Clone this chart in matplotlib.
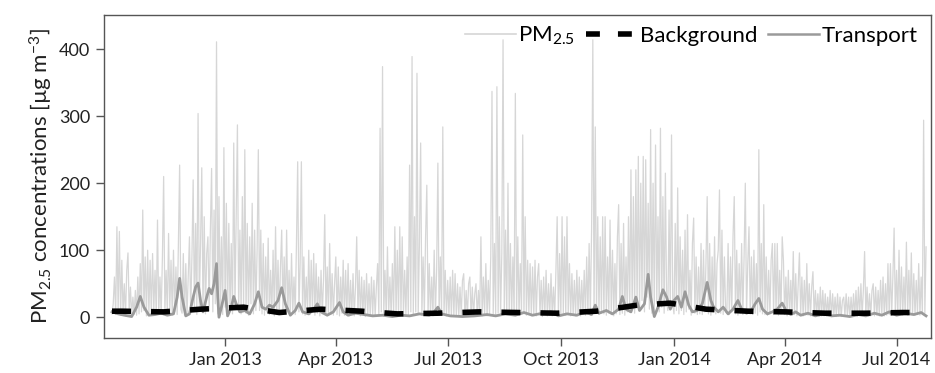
import matplotlib
matplotlib.use('Agg')
import pandas as pd
from matplotlib import pyplot as plt
from matplotlib.lines import Line2D

plt.rcParams['font.family'] = ['Lato', 'DejaVu Sans']
plt.rcParams['mathtext.fontset'] = 'custom'
plt.rcParams['mathtext.rm'] = 'Lato'
plt.rcParams['mathtext.default'] = 'regular'
plt.rcParams['lines.scale_dashes'] = False

# daily PM2.5 (ug/m3), starting 2012-10-01
pm25 = [
    5, 20, 60, 4, 135, 10, 128, 3, 85, 6, 50, 2, 70, 96, 5, 45, 3, 30, 4, 40,
    3, 60, 5, 80, 8, 160, 10, 90, 2, 100, 6, 85, 3, 95, 12, 70, 4, 145, 5, 60,
    4, 90, 210, 8, 70, 5, 125, 10, 85, 3, 100, 8, 75, 4, 110, 227, 12, 6, 95, 3,
    80, 3, 60, 120, 6, 90, 205, 10, 140, 4, 304, 15, 110, 223, 8, 150, 5, 95, 120, 10,
    130, 222, 8, 160, 20, 411, 5, 180, 12, 120, 4, 253, 15, 170, 6, 140, 10, 110, 5, 260,
    15, 150, 287, 8, 130, 5, 180, 12, 250, 6, 140, 3, 120, 20, 170, 5, 130, 10, 100, 250,
    10, 130, 5, 110, 3, 90, 8, 118, 4, 70, 6, 100, 2, 135, 10, 85, 4, 75, 130, 6,
    90, 5, 130, 8, 70, 3, 95, 6, 60, 4, 110, 232, 8, 80, 232, 5, 90, 3, 60, 6,
    100, 4, 85, 8, 95, 3, 80, 6, 60, 2, 70, 5, 55, 153, 6, 75, 3, 110, 4, 65,
    3, 50, 90, 4, 75, 2, 60, 6, 85, 3, 70, 5, 80, 2, 55, 4, 65, 2, 45, 120,
    5, 70, 2, 60, 4, 55, 1, 65, 5, 50, 2, 60, 3, 55, 2, 45, 80, 3, 282, 8,
    374, 5, 70, 2, 105, 4, 60, 2, 80, 4, 135, 6, 100, 3, 135, 6, 120, 2, 70, 4,
    90, 3, 227, 8, 389, 4, 150, 8, 364, 5, 110, 260, 3, 90, 5, 120, 197, 3, 80, 4,
    60, 2, 100, 4, 70, 230, 3, 90, 5, 284, 4, 70, 2, 55, 3, 60, 1, 70, 2, 65,
    2, 50, 1, 45, 3, 55, 65, 2, 40, 1, 50, 60, 2, 45, 1, 35, 50, 2, 40, 3,
    120, 2, 60, 3, 80, 2, 55, 4, 90, 337, 5, 110, 3, 344, 6, 150, 4, 95, 414, 8,
    130, 4, 200, 6, 110, 3, 90, 5, 334, 8, 120, 3, 80, 5, 272, 6, 150, 3, 85, 4,
    80, 2, 75, 3, 85, 2, 60, 80, 3, 55, 1, 60, 4, 70, 2, 50, 3, 65, 2, 45,
    3, 70, 150, 4, 95, 2, 150, 5, 120, 3, 150, 5, 80, 2, 65, 3, 55, 2, 70, 3,
    60, 2, 55, 4, 70, 3, 90, 5, 110, 3, 130, 414, 6, 284, 8, 150, 4, 120, 6, 150,
    5, 150, 3, 90, 6, 145, 4, 100, 2, 80, 5, 120, 168, 4, 110, 6, 140, 3, 90, 8,
    150, 8, 220, 15, 180, 6, 220, 20, 240, 10, 200, 25, 240, 8, 235, 30, 170, 12, 280, 6,
    200, 10, 257, 20, 150, 8, 282, 15, 180, 6, 215, 25, 10, 160, 12, 272, 20, 5, 140, 10,
    193, 5, 120, 10, 100, 4, 130, 8, 153, 12, 70, 3, 110, 148, 6, 90, 4, 75, 5, 110,
    4, 100, 8, 80, 180, 5, 110, 3, 90, 8, 120, 5, 80, 100, 190, 6, 130, 4, 90, 8,
    6, 110, 4, 90, 8, 120, 180, 5, 100, 3, 80, 6, 110, 4, 90, 200, 6, 80, 135, 5,
    90, 4, 100, 6, 80, 3, 250, 8, 110, 5, 168, 4, 90, 3, 70, 5, 85, 110, 4, 110,
    6, 110, 3, 70, 5, 120, 85, 4, 60, 2, 70, 4, 55, 3, 98, 4, 65, 2, 50, 96,
    3, 60, 2, 55, 4, 80, 3, 50, 2, 45, 68, 2, 40, 3, 35, 1, 45, 2, 40, 2,
    35, 2, 30, 3, 40, 1, 35, 2, 30, 1, 35, 2, 30, 1, 25, 30, 2, 35, 2, 30,
    1, 30, 2, 35, 2, 40, 1, 45, 3, 50, 2, 40, 98, 3, 45, 2, 35, 2, 40, 50,
    2, 45, 3, 40, 2, 55, 3, 60, 2, 50, 3, 80, 4, 80, 3, 60, 133, 4, 70, 3,
    100, 4, 75, 3, 60, 5, 112, 3, 70, 5, 96, 4, 65, 3, 55, 4, 80, 3, 60, 5, 294, 6, 105,
]

# transport contribution: day offset from 2012-10-01 and value
tr_day = [0, 5, 10, 16, 20, 23, 26, 30, 35, 40, 45, 50, 53, 55, 57, 60, 63, 66, 68, 70,
          72, 74, 77, 79, 81, 83, 85, 86, 87, 89, 92, 94, 97, 99, 101, 104, 108, 112, 116, 119,
          122, 125, 128, 131, 135, 138, 141, 145, 149, 152, 155, 160, 164, 167, 170, 175, 180, 185, 188, 192,
          198, 205, 212, 220, 228, 235, 242, 250, 258, 262, 265, 268, 275, 285, 295, 305, 312, 320, 328, 335,
          342, 350, 357, 363, 370, 378, 385, 390, 393, 396, 402, 407, 412, 415, 418, 422, 426, 429, 433, 436,
          438, 441, 444, 448, 451, 454, 457, 460, 463, 466, 469, 472, 476, 480, 484, 487, 489, 493, 497, 501,
          505, 509, 512, 516, 520, 523, 526, 529, 533, 537, 541, 545, 548, 552, 556, 560, 566, 572, 578, 585,
          592, 600, 607, 613, 620, 626, 632, 638, 645, 652, 658, 662]
tr_val = [8, 5, 3, 1, 15, 31, 15, 3, 4, 6, 3, 5, 30, 58, 30, 2, 5, 30, 45, 51,
          25, 8, 30, 43, 35, 50, 80, 30, 0, 15, 40, 2, 15, 31, 20, 8, 10, 5, 20, 38,
          15, 12, 18, 15, 25, 44, 20, 3, 10, 21, 8, 5, 12, 20, 8, 3, 8, 22, 8, 3,
          6, 4, 2, 3, 1, 3, 2, 5, 3, 8, 15, 5, 2, 1, 2, 4, 2, 5, 3, 7,
          3, 6, 8, 2, 5, 3, 8, 4, 18, 6, 10, 5, 12, 31, 12, 8, 30, 10, 20, 64,
          30, 1, 15, 41, 30, 12, 25, 31, 15, 38, 18, 8, 10, 20, 52, 25, 16, 8, 15, 5,
          12, 25, 12, 6, 10, 20, 28, 12, 5, 8, 12, 21, 10, 4, 8, 3, 6, 2, 5, 2,
          3, 1, 4, 2, 6, 3, 8, 3, 6, 4, 7, 2]

# background level
bg_day = [0, 8, 42, 72, 107, 136, 170, 203, 232, 265, 299, 331, 362, 394, 427, 454,
          483, 517, 547, 580, 613, 643, 662]
bg_val = [9, 9, 8, 12, 15, 7, 12, 9, 5, 6, 8, 7, 6, 9, 18, 21,
          12, 9, 8, 6, 6, 7, 7]

tick_dates = ['2013-01-01', '2013-04-01', '2013-07-01', '2013-10-01',
              '2014-01-01', '2014-04-01', '2014-07-01']
tick_labels = ['Jan 2013', 'Apr 2013', 'Jul 2013', 'Oct 2013',
               'Jan 2014', 'Apr 2014', 'Jul 2014']

start = pd.Timestamp('2012-10-01')
days = pd.date_range(start, periods=len(pm25), freq='D')
tr_dates = start + pd.to_timedelta(tr_day, unit='D')
bg_dates = start + pd.to_timedelta(bg_day, unit='D')

fig = plt.figure(figsize=(9.35, 3.73), dpi=100)
ax = fig.add_axes([104 / 935, 35 / 373, 827 / 935, 323 / 373])

pm_col = '#d6d6d6'
tr_col = '#9a9a9a'
bg_dash = (13.7, 14.4)

ax.plot(days, pm25, color=pm_col, lw=0.9, zorder=1)
ax.plot(tr_dates, tr_val, color=tr_col, lw=2.0, zorder=2)
ax.plot(bg_dates, bg_val, color='black', lw=4, dashes=bg_dash, zorder=3)

ax.set_xlim(start - pd.Timedelta(days=6.5), start + pd.Timedelta(days=666))
ax.set_ylim(-31, 451)
ax.set_yticks([0, 100, 200, 300, 400])
ax.set_xticks(pd.to_datetime(tick_dates))
ax.set_xticklabels(tick_labels)

for s in ax.spines.values():
    s.set_color('#555555')
    s.set_linewidth(1.0)
ax.tick_params(axis='both', direction='out', length=6, width=1, color='#555555',
               labelsize=13, labelcolor='#222222', pad=4)

ax.set_ylabel('PM$_{2.5}$ concentrations [µg m$^{-3}$]', fontsize=16, color='#222222', labelpad=3)

handles = [Line2D([], [], color=pm_col, lw=1.2),
           Line2D([], [], color='black', lw=4, dashes=(10, 13, 10, 40)),
           Line2D([], [], color=tr_col, lw=1.8)]
ax.legend(handles, ['PM$_{2.5}$', 'Background', 'Transport'], ncol=3, frameon=False,
          loc='center right', bbox_to_anchor=(1.0, 0.935), fontsize=16,
          handlelength=2.3, handletextpad=0.1, columnspacing=0.5, borderaxespad=0.2)

fig.savefig('out.png', dpi=100)
